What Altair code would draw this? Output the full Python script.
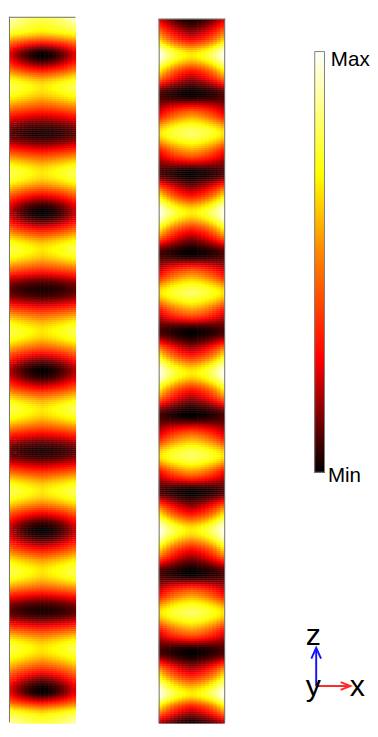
import numpy as np
import pandas as pd
import altair as alt

# ---------------- values ----------------
# Left strip: vertical position (page px) of the key rows (dark / bright band centres)
LEFT_Z = [8, 22, 47, 80, 127, 168, 208, 246, 287, 330, 370, 410, 452, 493, 533, 575, 615, 654, 697, 722, 736]
# normalised field (0 = Min, 1 = Max) at the strip centre, half-way, and at the side edge
LEFT_CENTER = [0.82, 0.70, 0.00, 0.67, 0.03, 0.67, 0.00, 0.67, 0.03, 0.67, 0.00, 0.67, 0.03, 0.67, 0.00, 0.67, 0.03, 0.67, 0.00, 0.70, 0.82]
LEFT_MID = [0.86, 0.74, 0.08, 0.73, 0.05, 0.73, 0.06, 0.73, 0.05, 0.73, 0.06, 0.73, 0.05, 0.73, 0.06, 0.73, 0.05, 0.73, 0.08, 0.75, 0.86]
LEFT_EDGE = [0.97, 0.80, 0.26, 0.80, 0.10, 0.80, 0.22, 0.80, 0.10, 0.80, 0.20, 0.80, 0.10, 0.80, 0.22, 0.80, 0.10, 0.80, 0.26, 0.82, 0.97]

# Right strip key rows (dark bands, transitions, X-shaped and elliptical bright bands)
RIGHT_Z = [10, 30, 47, 67, 87, 107, 127, 148, 168, 188, 208, 229, 250, 270, 290, 310, 330, 351, 372, 393,
           415, 436, 457, 475, 493, 513, 533, 555, 577, 597, 617, 637, 657, 678, 700, 716, 733, 740]
RIGHT_CENTER = [0.00, 0.24, 0.68, 0.24,
                0.00, 0.50, 0.82, 0.50, 0.00, 0.24, 0.68, 0.24,
                0.00, 0.50, 0.82, 0.50, 0.00, 0.24, 0.68, 0.24,
                0.00, 0.50, 0.82, 0.50, 0.00, 0.24, 0.68, 0.24,
                0.00, 0.50, 0.82, 0.50, 0.00, 0.24, 0.68, 0.24,
                0.00, 0.02]
RIGHT_MID = [0.06, 0.36, 0.78, 0.36,
             0.03, 0.42, 0.77, 0.42, 0.03, 0.36, 0.78, 0.36,
             0.03, 0.42, 0.77, 0.42, 0.03, 0.36, 0.78, 0.36,
             0.03, 0.42, 0.77, 0.42, 0.03, 0.36, 0.78, 0.36,
             0.03, 0.42, 0.77, 0.42, 0.03, 0.36, 0.78, 0.36,
             0.05, 0.08]
RIGHT_EDGE = [0.22, 0.62, 1.00, 0.62,
              0.08, 0.25, 0.66, 0.25, 0.08, 0.62, 1.00, 0.62,
              0.08, 0.25, 0.66, 0.25, 0.08, 0.62, 1.00, 0.62,
              0.08, 0.25, 0.66, 0.25, 0.08, 0.62, 1.00, 0.62,
              0.08, 0.25, 0.66, 0.25, 0.08, 0.62, 1.00, 0.62,
              0.15, 0.20]

# "hot" colour map
CMAP_STOPS = [0.0, 0.27, 0.51, 0.71, 1.0]
CMAP_COLORS = ["#000000", "#ff0000", "#ff8000", "#ffff00", "#ffffff"]
CBAR_LABELS = ["Min", "Max"]
AXIS_LABELS = ["z", "x", "y"]


# ---------------- build the tables ----------------
def pchip(xk, yk, xq):
    xk = np.asarray(xk, float)
    yk = np.asarray(yk, float)
    h = np.diff(xk)
    d = np.diff(yk) / h
    n = len(xk)
    m = np.zeros(n)
    m[0], m[-1] = d[0], d[-1]
    for k in range(1, n - 1):
        if d[k - 1] * d[k] > 0:
            w1 = 2 * h[k] + h[k - 1]
            w2 = h[k] + 2 * h[k - 1]
            m[k] = (w1 + w2) / (w1 / d[k - 1] + w2 / d[k])
    idx = np.clip(np.searchsorted(xk, xq) - 1, 0, n - 2)
    t = (xq - xk[idx]) / h[idx]
    h00 = 2 * t**3 - 3 * t**2 + 1
    h10 = t**3 - 2 * t**2 + t
    h01 = -2 * t**3 + 3 * t**2
    h11 = t**3 - t**2
    return h00 * yk[idx] + h10 * h[idx] * m[idx] + h01 * yk[idx + 1] + h11 * h[idx] * m[idx + 1]


def strip_cells(x0, x1, z0, z1, zk, cen, mid, edge, ncols=17, dz=2):
    zs = np.arange(z0, z1, dz, dtype=float)
    zc = zs + dz / 2
    vc = pchip(zk, cen, zc)
    vm = pchip(zk, mid, zc)
    ve = pchip(zk, edge, zc)
    w = (x1 - x0) / ncols
    xa = x0 + np.arange(ncols) * w
    u = np.abs(xa + w / 2 - (x0 + x1) / 2) / ((x1 - x0) / 2)
    a = -3 * vc + 4 * vm - ve
    b = 2 * vc - 4 * vm + 2 * ve
    v = vc[:, None] + a[:, None] * u[None, :] + b[:, None] * u[None, :] ** 2
    v = np.clip(v, 0, 1)
    X, Z = np.meshgrid(xa, zs)
    return pd.DataFrame({
        "x": X.ravel().round(2),
        "x2": (X.ravel() + w + 0.6).round(2),
        "y": Z.ravel(),
        "y2": Z.ravel() + dz + 0.4,
        "v": v.ravel().round(3),
    })


cells = pd.concat([
    strip_cells(9, 77, 8, 729, LEFT_Z, LEFT_CENTER, LEFT_MID, LEFT_EDGE),
    strip_cells(162, 229, 10, 729, RIGHT_Z, RIGHT_CENTER, RIGHT_MID, RIGHT_EDGE),
], ignore_index=True)

levels = np.linspace(0, 1, 216)
cbar_df = pd.DataFrame({"lo": levels[:-1], "hi": levels[1:] + 0.002, "v": (levels[:-1] + levels[1:]) / 2})

borders = pd.DataFrame({
    "x": [9.5, 9, 162.5, 229.5, 162],
    "x2": [9.5, 77, 162.5, 229.5, 230],
    "y": [8, 8.5, 10, 10, 10.5],
    "y2": [729, 8.5, 729, 729, 10.5],
})

# ---------------- chart ----------------
page_x = alt.Scale(domain=[8, 370], nice=False, zero=False)
page_y = alt.Scale(domain=[8, 729], nice=False, zero=False, reverse=True)


def px(f):
    return alt.X(f, type="quantitative", scale=page_x, axis=None)


def py(f):
    return alt.Y(f, type="quantitative", scale=page_y, axis=None)


hot = alt.Scale(domain=CMAP_STOPS, range=CMAP_COLORS, interpolate="rgb", clamp=True)

heat = alt.Chart(cells).mark_rect(strokeWidth=0).encode(
    x=px("x"), x2="x2:Q", y=py("y"), y2="y2:Q",
    color=alt.Color("v:Q", scale=hot, legend=None),
)

frame = alt.Chart(borders).mark_rule(color="#707070", strokeWidth=1).encode(
    x=px("x"), x2="x2:Q", y=py("y"), y2="y2:Q"
)

cbar = alt.Chart(cbar_df).mark_rect(strokeWidth=0).encode(
    x=alt.value(313), x2=alt.value(324),
    y=alt.Y("lo:Q", scale=alt.Scale(domain=[0, 1], range=[466, 35], nice=False, zero=False), axis=None),
    y2="hi:Q",
    color=alt.Color("v:Q", scale=hot, legend=None),
)
cbar_frame = alt.Chart(pd.DataFrame({"a": [0]})).mark_rect(
    fillOpacity=0, stroke="#808080", strokeWidth=1
).encode(x=alt.value(313.5), x2=alt.value(323.5), y=alt.value(35.5), y2=alt.value(465.5))

cbar_text = alt.Chart(pd.DataFrame({"x": [335, 338], "y": [483, 58], "t": CBAR_LABELS})).mark_text(
    align="left", baseline="alphabetic", fontSize=21, font="Liberation Sans", color="black"
).encode(x=px("x"), y=py("y"), text="t:N")

z_arrow = alt.Chart(pd.DataFrame({"x": [323], "y": [692], "y2": [654]})).mark_rule(
    color="#1414ff", strokeWidth=2
).encode(x=px("x"), y=py("y"), y2="y2:Q")
x_arrow = alt.Chart(pd.DataFrame({"x": [323], "x2": [356], "y": [692]})).mark_rule(
    color="#ff2a2a", strokeWidth=2
).encode(x=px("x"), x2="x2:Q", y=py("y"))

z_head = alt.Chart(pd.DataFrame({"x": [323], "y": [653]})).mark_point(
    shape="M-0.9,2L0,0L0.9,2", size=121, filled=False, opacity=1, color="#1414ff", strokeWidth=2
).encode(x=px("x"), y=py("y"))
x_head = alt.Chart(pd.DataFrame({"x": [358], "y": [692]})).mark_point(
    shape="M-2,-0.8L0,0L-2,0.8", size=100, filled=False, opacity=1, color="#ff2a2a", strokeWidth=2
).encode(x=px("x"), y=py("y"))

axis_text = alt.Chart(pd.DataFrame({"x": [320, 365, 320], "y": [650, 702, 702], "t": AXIS_LABELS})).mark_text(
    align="center", baseline="alphabetic", fontSize=31, font="Liberation Sans", color="black"
).encode(x=px("x"), y=py("y"), text="t:N")

chart = alt.layer(
    heat, frame, cbar, cbar_frame, cbar_text, z_arrow, x_arrow, z_head, x_head, axis_text
).resolve_scale(y="independent", x="independent", color="independent").properties(
    width=362, height=721, padding=0, background="white"
).configure_view(stroke=None)

chart.save("out.html", embed_options={"renderer": "svg", "actions": False})
